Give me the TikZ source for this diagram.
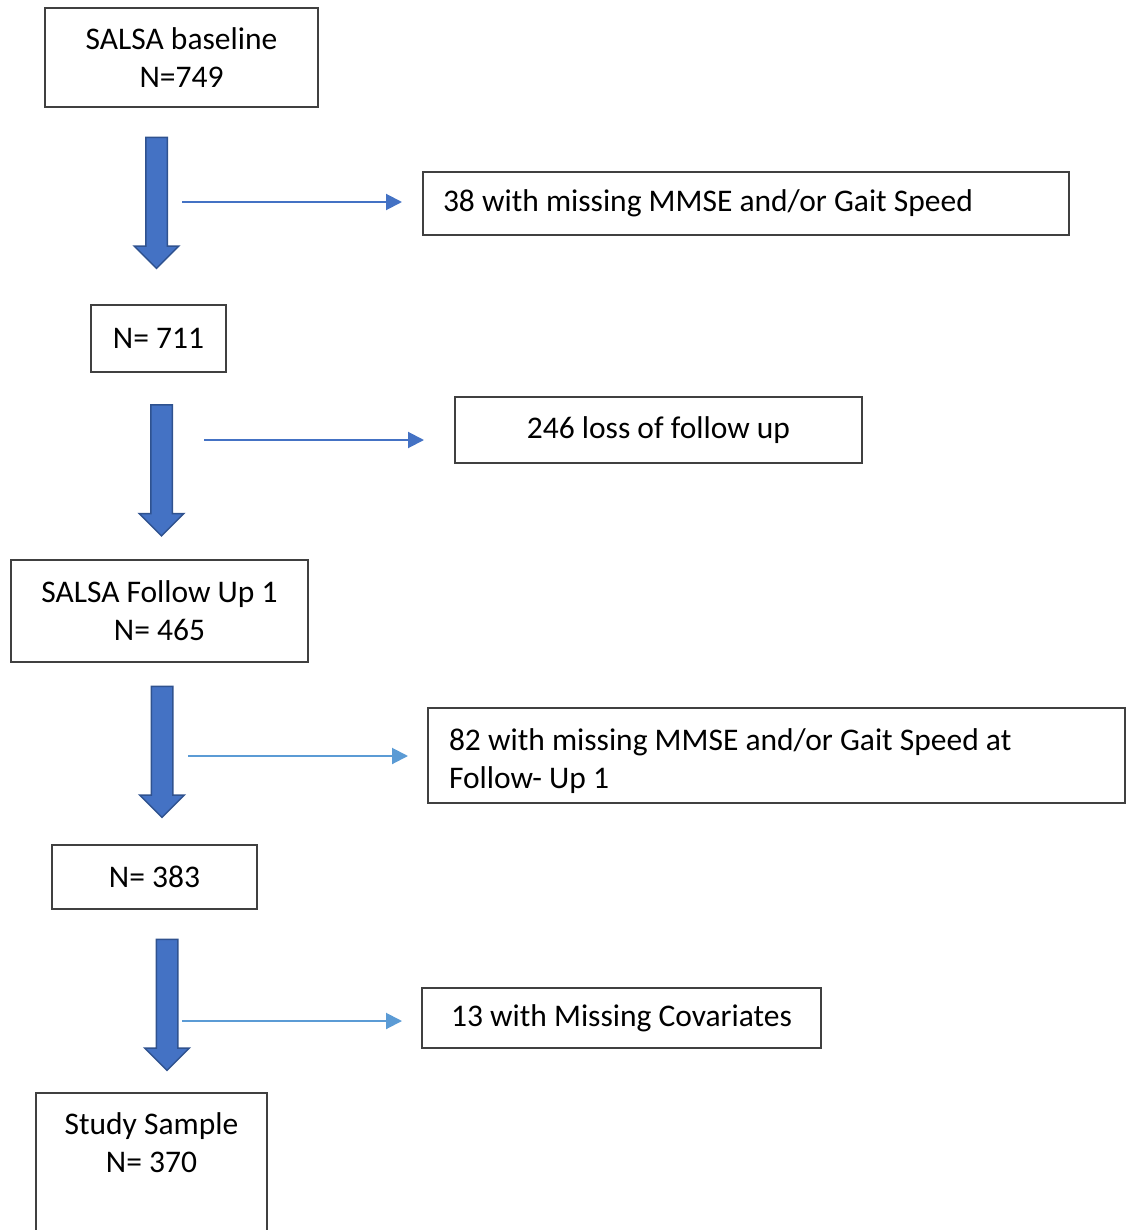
\documentclass[tikz,border=0pt]{standalone}
\usepackage{fontspec}
\setmainfont{Carlito}
\usepackage{xcolor}
\usetikzlibrary{arrows.meta,shapes.arrows}
\definecolor{arrowBlue}{HTML}{4472C4}
\definecolor{arrowEdge}{HTML}{2F528F}
\definecolor{lightBlue}{HTML}{5B9BD5}
\definecolor{boxEdge}{HTML}{404040}
\tikzset{
    flowBox/.style={
        draw=boxEdge,
        line width=2pt,
        align=center,
        inner sep=0pt,
        font=\fontsize{31.5}{38}\selectfont
    },
    exclBox/.style={
        flowBox,
        align=flush left,
        inner xsep=20pt
    },
    downArrow/.style={
        single arrow,
        draw=arrowEdge,
        fill=arrowBlue,
        line width=1.5pt,
        rotate=-90,
        inner sep=0pt,
        text height=10pt,
        text depth=10pt,
        minimum width=43pt,
        minimum height=131pt,
        single arrow head extend=11.5pt
    },
    sideArrow/.style={
        -{Triangle[length=16pt,width=16pt]},
        line width=2pt,
        draw=arrowBlue
    }
}
\begin{document}
\begin{tikzpicture}[x=1pt,y=-1pt]
        \useasboundingbox (0,0) rectangle (1127,1230);
        \clip (0,0) rectangle (1127,1230);

        % main column
        \node[flowBox,minimum width=273pt,minimum height=99pt] (baseline) at (181.5,57.5) {SALSA baseline\\N=749};
        \node[flowBox,minimum width=135pt,minimum height=67pt] (nFirst) at (158.5,338.5) {N= 711};
        \node[flowBox,minimum width=297pt,minimum height=102pt] (followUp) at (159.5,611) {SALSA Follow Up 1\\N= 465};
        \node[flowBox,minimum width=205pt,minimum height=64pt] (nSecond) at (154.5,877) {N= 383};
        \node[flowBox,minimum width=231pt,inner ysep=16pt,text height=63pt,text depth=80pt,anchor=north] (study) at (151.5,1092) {Study Sample\\N= 370};

        % exclusions
        \node[exclBox,text width=606pt,minimum height=63pt] (missingFirst) at (746,203.5) {38 with missing MMSE and/or Gait Speed};
        \node[flowBox,minimum width=407pt,minimum height=66pt] (lostFollow) at (658.5,430) {246 loss of follow up};
        \node[exclBox,inner xsep=21pt,text width=655pt,text height=42pt,text depth=53pt] (missingSecond) at (776.5,755.5) {82 with missing MMSE and/or Gait Speed at\\Follow- Up 1};
        \node[flowBox,minimum width=399pt,minimum height=60pt] (missingCov) at (621.5,1018) {13 with Missing Covariates};

        % block arrows
        \node[downArrow] (stepOne) at (156.5,197.5) {};
        \node[downArrow] (stepTwo) at (161.5,465) {};
        \node[downArrow] (stepThree) at (162,746.5) {};
        \node[downArrow] (stepFour) at (167,999.5) {};

        \coordinate (fromOne) at (182,202);
        \coordinate (fromTwo) at (204,440);
        \coordinate (fromThree) at (188,756);
        \coordinate (fromFour) at (182,1021);

        \draw[sideArrow,shorten >=20pt] (fromOne) -- (fromOne -| missingFirst.west);
        \draw[sideArrow,shorten >=30pt] (fromTwo) -- (fromTwo -| lostFollow.west);
        \draw[sideArrow,draw=lightBlue,shorten >=19pt] (fromThree) -- (fromThree -| missingSecond.west);
        \draw[sideArrow,draw=lightBlue,shorten >=19pt] (fromFour) -- (fromFour -| missingCov.west);
    \end{tikzpicture}
\end{document}
